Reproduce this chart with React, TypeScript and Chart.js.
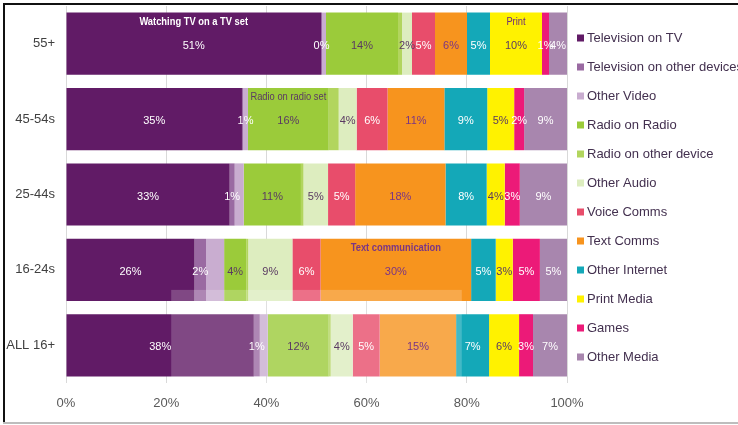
import { useEffect, useRef } from 'react';
import { Chart, registerables } from 'chart.js';

Chart.register(...registerables);

const categories = ['55+', '45-54s', '25-44s', '16-24s', 'ALL 16+'];

const seriesNames = [
  'Television on TV',
  'Television on other devices',
  'Other Video',
  'Radio on Radio',
  'Radio on other device',
  'Other Audio',
  'Voice Comms',
  'Text Comms',
  'Other Internet',
  'Print Media',
  'Games',
  'Other Media',
];

// shares in %, per category (55+, 45-54s, 25-44s, 16-24s, ALL 16+)
const tvOnTv = [51.0, 35.3, 32.6, 25.6, 37.6];
const tvOtherDevices = [0.2, 0.2, 1.0, 2.3, 1.2];
const otherVideo = [0.8, 1.0, 1.8, 3.6, 1.6];
const radioOnRadio = [14.4, 16.2, 11.4, 4.4, 12.2];
const radioOtherDevice = [0.8, 2.0, 0.5, 0.4, 0.4];
const otherAudio = [2.0, 3.6, 4.9, 8.8, 4.4];
const voiceComms = [4.6, 6.2, 5.4, 5.6, 5.4];
const textComms = [6.4, 11.4, 18.0, 30.0, 15.3];
const otherInternet = [4.6, 8.6, 8.2, 4.9, 6.6];
const printMedia = [10.4, 5.4, 3.6, 3.4, 6.0];
const games = [1.4, 2.0, 3.0, 5.4, 2.8];
const otherMedia = [3.6, 8.6, 9.4, 5.4, 6.8];

const seriesValues = [
  tvOnTv, tvOtherDevices, otherVideo, radioOnRadio, radioOtherDevice, otherAudio,
  voiceComms, textComms, otherInternet, printMedia, games, otherMedia,
];

const seriesColors = [
  '#611B66', '#9A6AA2', '#C9ADD0', '#9BCB3A', '#B2D55E', '#DDEDBF',
  '#E84D6B', '#F7941E', '#14A8B8', '#FFF200', '#EC1A78', '#A886AE',
];

const DARK = '#5A3A62';
const labelColors = [
  '#FFFFFF', '#FFFFFF', '#FFFFFF', DARK, DARK, DARK,
  '#FFFFFF', '#7A3585', '#FFFFFF', DARK, '#FFFFFF', '#FFFFFF',
];

// data labels removed in the original ("series:category")
const hiddenLabels = ['1:1', '2:0', '2:2', '2:3', '2:4', '4:0', '4:1', '4:2', '4:3', '4:4'];

const annotations = [
  { series: 0, category: 0, text: 'Watching TV on a TV set', color: '#FFFFFF', bold: true },
  { series: 9, category: 0, text: 'Print', color: '#6B2C7A', bold: false },
  { series: 3, category: 1, text: 'Radio on radio set', color: '#5A3A62', bold: false },
  { series: 7, category: 3, text: 'Text communication', color: '#7A3585', bold: true },
];

const xTickValues = [0, 20, 40, 60, 80, 100];
const xTickLabels = ['0%', '20%', '40%', '60%', '80%', '100%'];

const totals = categories.map((_, ci) => seriesValues.reduce((s, arr) => s + arr[ci], 0));

const SANS = "'Liberation Sans', Arial, sans-serif";

function narrowText(ctx: any, text: string, x: number, y: number, sx: number) {
  ctx.save();
  ctx.translate(x, y);
  ctx.scale(sx, 1);
  ctx.fillText(text, 0, 0);
  ctx.restore();
}

const overlayPlugin = {
  id: 'watermarkOverlay',
  afterDatasetsDraw(chart: any) {
    const { ctx } = chart;
    const xs = chart.scales.x;
    const ys = chart.scales.y;
    const x0 = xs.getPixelForValue(21);
    const x1 = xs.getPixelForValue(79);
    const y0 = ys.getPixelForValue(3) + 20;
    ctx.save();
    ctx.fillStyle = 'rgba(255,255,255,0.2)';
    ctx.fillRect(x0, y0, x1 - x0, chart.height - y0);
    ctx.restore();
  },
};

const labelsPlugin = {
  id: 'segLabels',
  afterDatasetsDraw(chart: any) {
    const { ctx } = chart;
    ctx.save();
    ctx.textAlign = 'center';
    ctx.textBaseline = 'middle';
    chart.data.datasets.forEach((ds: any, di: number) => {
      const meta = chart.getDatasetMeta(di);
      meta.data.forEach((el: any, ci: number) => {
        if (hiddenLabels.includes(di + ':' + ci)) return;
        const p = el.getProps(['x', 'y', 'base'], true);
        const cx = (p.x + p.base) / 2;
        ctx.font = '11px ' + SANS;
        ctx.fillStyle = labelColors[di];
        ctx.fillText(Math.round(seriesValues[di][ci]) + '%', cx, p.y + 2);
      });
    });
    annotations.forEach((a) => {
      const el = chart.getDatasetMeta(a.series).data[a.category];
      const p = el.getProps(['x', 'y', 'base'], true);
      const cx = (p.x + p.base) / 2;
      ctx.font = (a.bold ? 'bold ' : '') + '11px ' + SANS;
      ctx.fillStyle = a.color;
      narrowText(ctx, a.text, cx, p.y - 22, 0.85);
    });
    const xs = chart.scales.x;
    ctx.font = '13px ' + SANS;
    ctx.fillStyle = '#595959';
    xTickValues.forEach((v, i) => {
      ctx.fillText(xTickLabels[i], xs.getPixelForValue(v), chart.chartArea.bottom + 20);
    });
    ctx.restore();
  },
};

const legendPlugin = {
  id: 'sideLegend',
  afterDraw(chart: any) {
    const { ctx, chartArea } = chart;
    ctx.save();
    ctx.textAlign = 'left';
    ctx.textBaseline = 'middle';
    ctx.font = '13px ' + SANS;
    seriesNames.forEach((name, i) => {
      const y = chartArea.top + 32 + i * 29;
      const x = chartArea.right + 10;
      ctx.fillStyle = seriesColors[i];
      ctx.fillRect(x, y - 3.5, 7, 7);
      ctx.fillStyle = '#43304F';
      ctx.fillText(name, x + 10, y);
    });
    ctx.restore();
  },
};

const framePlugin = {
  id: 'frame',
  afterDraw(chart: any) {
    const { ctx } = chart;
    ctx.save();
    ctx.fillStyle = '#111111';
    ctx.fillRect(3, 3, chart.width - 3, 2);
    ctx.fillRect(3, 3, 2, chart.height - 4);
    ctx.fillStyle = '#BDBDBD';
    ctx.fillRect(3, chart.height - 3, chart.width - 3, 2);
    ctx.restore();
  },
};

export default function App() {
  const ref = useRef<HTMLCanvasElement | null>(null);

  useEffect(() => {
    document.body.style.margin = '0';
    const canvas = ref.current;
    if (!canvas) return;
    const chart = new Chart(canvas, {
      type: 'bar',
      data: {
        labels: categories,
        datasets: seriesNames.map((name, i) => ({
          label: name,
          data: seriesValues[i].map((v, ci) => (v / totals[ci]) * 100),
          backgroundColor: seriesColors[i],
          borderWidth: 0,
          barPercentage: 0.825,
          categoryPercentage: 1,
        })),
      },
      options: {
        indexAxis: 'y',
        responsive: false,
        maintainAspectRatio: false,
        animation: false,
        devicePixelRatio: 1,
        layout: { padding: { left: 0, right: 171, top: 6, bottom: 0 } },
        plugins: {
          legend: { display: false },
          tooltip: { enabled: false },
        },
        scales: {
          x: {
            stacked: true,
            min: 0,
            max: 100,
            afterFit: (s: any) => {
              s.height = 42;
              s.paddingLeft = 0; s.paddingRight = 0; s.paddingTop = 0; s.paddingBottom = 0;
            },
            afterBuildTicks: (s: any) => { s.ticks = xTickValues.map((v) => ({ value: v })); },
            ticks: { display: false },
            grid: { color: '#D9D9D9', drawTicks: false, lineWidth: 1 },
            border: { display: false },
          },
          y: {
            stacked: true,
            afterFit: (s: any) => {
              s.width = 66;
              s.paddingLeft = 0; s.paddingRight = 0; s.paddingTop = 0; s.paddingBottom = 0;
            },
            ticks: {
              color: '#404040',
              font: { family: SANS, size: 13 },
              padding: 3,
            },
            grid: { display: false },
            border: { display: false },
          },
        },
      },
      plugins: [overlayPlugin, labelsPlugin, legendPlugin, framePlugin],
    } as any);
    return () => chart.destroy();
  }, []);

  return (
    <div style={{ width: 738, height: 425, background: '#FFFFFF' }}>
      <canvas ref={ref} width={738} height={425} style={{ display: 'block' }} />
    </div>
  );
}
